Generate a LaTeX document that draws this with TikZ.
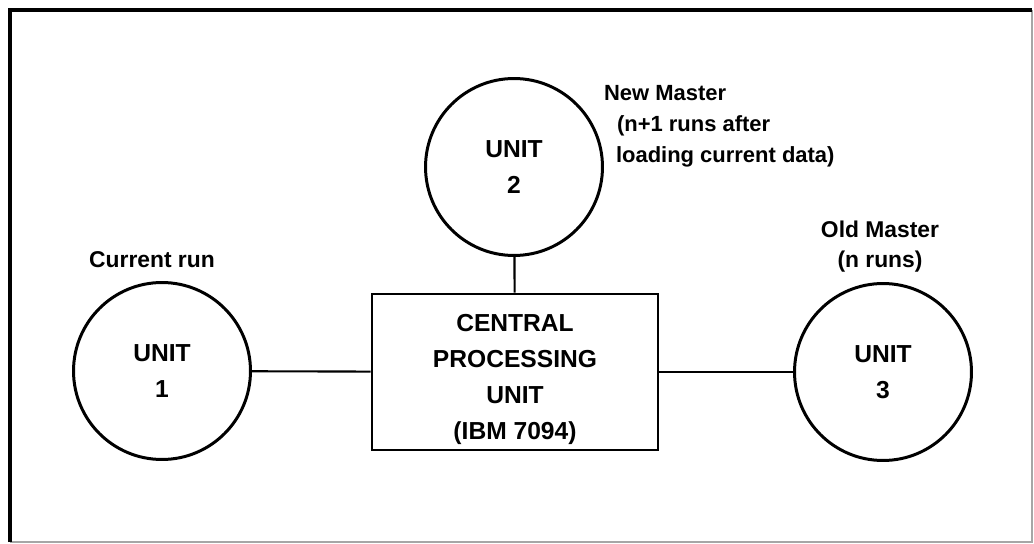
\documentclass[tikz,border=0pt]{standalone}
\usepackage{fontspec}
\setmainfont{Liberation Sans}
\usetikzlibrary{positioning}
\tikzset{
  every picture/.style={line width=1.2pt},
  unit/.style={draw, circle, line width=1.7pt, minimum size=3.54cm, inner sep=0pt, align=center,
    font=\fontsize{14}{20.5}\selectfont\bfseries},
  cpu/.style={draw, rectangle, line width=1.5pt, minimum width=5.72cm, minimum height=3.12cm, inner sep=0pt},
  cputext/.style={inner sep=0pt, align=center, font=\fontsize{14}{20.5}\selectfont\bfseries},
  tag/.style={inner sep=0pt, font=\fontsize{13}{17}\selectfont\bfseries},
  link/.style={line width=1.2pt},
  frame/.style={line width=2.2pt},
  faint/.style={line width=0.6pt, color=black!35},
}
\begin{document}
\begin{tikzpicture}[x=0.02cm, y=-0.02cm]
  \useasboundingbox (0,0) rectangle (1034,544);
  \draw[faint] (10,542) -- (1032,542) -- (1032,10);
  \draw[frame] (10,542) -- (10,10) -- (1032,10);
  % units and the processor
  \node[cpu] (cpu) at (515,372) {};
  \node[cputext] (cpulbl) at (515,379) {CENTRAL\\ PROCESSING\\ UNIT\\ (IBM 7094)};
  \node[unit] (u1) at (162,371) {UNIT\\ 1};
  \node[unit] (u2) at (514,167) {UNIT\\ 2};
  \node[unit] (u3) at (883,372) {UNIT\\ 3};
  \draw[link] (u1) -- (cpu); \draw[link] (u2) -- (cpu); \draw[link] (cpu) -- (u3);
  % labels
  \node[tag] (curr) at (152,260) {Current run};
  \node[tag, align=left, anchor=north west, font=\fontsize{12.5}{17.6}\selectfont\bfseries] (newm) at (603,84)
    {New Master\\ \hspace*{0.26cm}(n+1 runs after\\ \hspace*{0.24cm}loading current data)};
  \node[tag, align=center] (oldm) at (880,247) {Old Master\\ (n runs)};
\end{tikzpicture}
\end{document}
